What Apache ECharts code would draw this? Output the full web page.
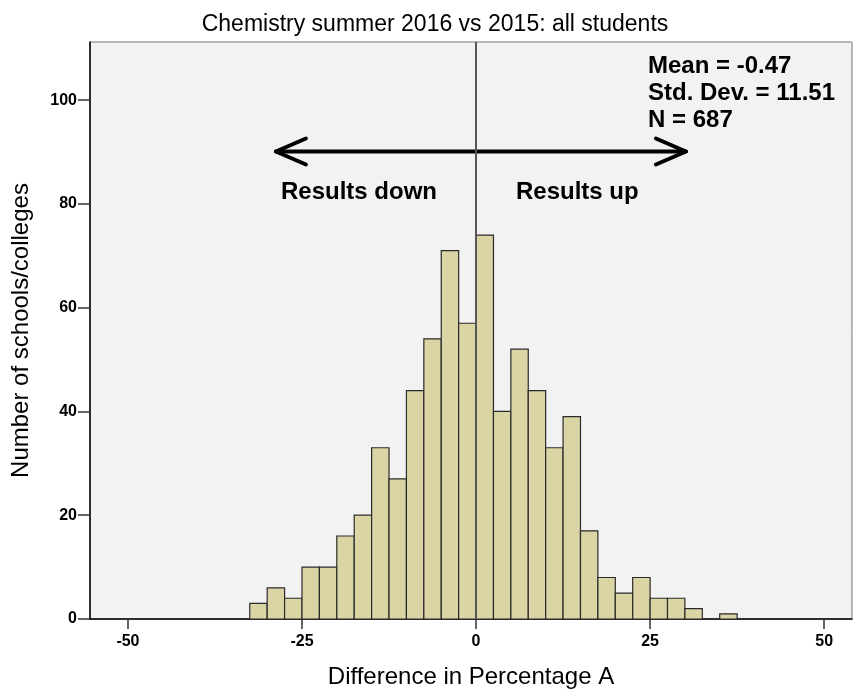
<!DOCTYPE html>
<html>
<head>
<meta charset="utf-8">
<script src="https://cdn.jsdelivr.net/npm/echarts@6/dist/echarts.min.js"></script>
<style>
  html, body { margin: 0; padding: 0; background: #fff; }
  #chart { width: 857px; height: 690px; }
</style>
</head>
<body>
<div id="chart"></div>
<script>
// histogram bins (left edge, width 2.5) and counts
var binStarts = [-32.5, -30, -27.5, -25, -22.5, -20, -17.5, -15, -12.5, -10, -7.5, -5, -2.5,
                 0, 2.5, 5, 7.5, 10, 12.5, 15, 17.5, 20, 22.5, 25, 27.5, 30, 32.5, 35];
var counts = [3, 6, 4, 10, 10, 16, 20, 33, 27, 44, 54, 71, 57,
              74, 40, 52, 44, 33, 39, 17, 8, 5, 8, 4, 4, 2, 0, 1];
var binWidth = 2.5;
var xTicks = [-50, -25, 0, 25, 50];
var yTicks = [0, 20, 40, 60, 80, 100];
var statsLines = ['Mean = -0.47', 'Std. Dev. = 11.51', 'N = 687'];
// double arrow: from, to, height
var arrowSpan = [-28.75, 30.15];
var arrowY = 90.1;

var chart = echarts.init(document.getElementById('chart'));

var binData = [];
for (var i = 0; i < binStarts.length; i++) {
    if (counts[i] > 0) binData.push([binStarts[i], binStarts[i] + binWidth, counts[i]]);
}

var statsGraphics = statsLines.map(function (s, k) {
    return {
        type: 'text', x: 648, y: 66 + k * 27,
        style: { text: s, font: 'bold 24px "Liberation Sans"', fill: '#000', verticalAlign: 'middle' }
    };
});

var option = {
    animation: false,
    backgroundColor: '#ffffff',
    title: {
        text: 'Chemistry summer 2016 vs 2015: all students',
        left: 430, top: 8, textAlign: 'center',
        textStyle: { fontFamily: 'Liberation Sans', fontSize: 23, fontWeight: 'normal', color: '#000' }
    },
    grid: {
        left: 90, right: 5, top: 42, bottom: 71,
        outerBoundsMode: 'none',
        show: true, backgroundColor: '#f2f2f2', borderColor: '#777', borderWidth: 1
    },
    xAxis: {
        type: 'value', min: -55.45, max: 54.0,
        name: 'Difference in Percentage A', nameLocation: 'middle', nameGap: 46,
        nameTextStyle: { fontFamily: 'Liberation Sans', fontSize: 24, color: '#000' },
        axisLine: { lineStyle: { color: '#000', width: 1.5 } },
        axisTick: { show: true, length: 10, customValues: xTicks, lineStyle: { color: '#333', width: 1.5 } },
        axisLabel: { customValues: xTicks, margin: 15, fontFamily: 'Liberation Sans', fontSize: 16, fontWeight: 'bold', color: '#000' },
        splitLine: { show: false }
    },
    yAxis: {
        type: 'value', min: 0, max: 111.2,
        name: 'Number of schools/colleges', nameLocation: 'middle', nameGap: 57,
        nameTextStyle: { fontFamily: 'Liberation Sans', fontSize: 24, fontWeight: 'normal', color: '#000' },
        axisLine: { show: true, onZero: false, lineStyle: { color: '#000', width: 1.5 } },
        axisTick: { show: true, length: 12, customValues: yTicks, lineStyle: { color: '#333', width: 1.5 } },
        axisLabel: { customValues: yTicks, margin: 13, fontFamily: 'Liberation Sans', fontSize: 16, fontWeight: 'bold', color: '#000' },
        splitLine: { show: false }
    },
    graphic: statsGraphics.concat([
        {
            type: 'text', x: 281, y: 192,
            style: { text: 'Results down', font: 'bold 24px "Liberation Sans"', fill: '#000', verticalAlign: 'middle' }
        },
        {
            type: 'text', x: 516, y: 192,
            style: { text: 'Results up', font: 'bold 24px "Liberation Sans"', fill: '#000', verticalAlign: 'middle' }
        }
    ]),
    series: [
        {
            type: 'custom',
            data: binData,
            encode: { x: [0, 1], y: 2 },
            renderItem: function (params, api) {
                var p0 = api.coord([api.value(0), api.value(2)]);
                var p1 = api.coord([api.value(1), 0]);
                return {
                    type: 'rect',
                    shape: { x: p0[0], y: p0[1], width: p1[0] - p0[0], height: p1[1] - p0[1] },
                    style: { fill: '#dbd5a6', stroke: '#2a2a2a', lineWidth: 1.2 }
                };
            },
            markLine: {
                silent: true, symbol: 'none',
                label: { show: false },
                lineStyle: { color: '#555', width: 2, type: 'solid' },
                data: [{ xAxis: 0 }]
            }
        },
        {
            type: 'custom',
            data: [[arrowSpan[0], arrowSpan[1], arrowY]],
            renderItem: function (params, api) {
                var a = api.coord([api.value(0), api.value(2)]);
                var b = api.coord([api.value(1), api.value(2)]);
                var hx = 30, hy = 13;
                var st = { stroke: '#000', lineWidth: 4, fill: null, lineJoin: 'round', lineCap: 'round' };
                return {
                    type: 'group',
                    children: [
                        { type: 'polyline', shape: { points: [a, b] }, style: st },
                        { type: 'polyline', shape: { points: [[a[0] + hx, a[1] - hy], a, [a[0] + hx, a[1] + hy]] }, style: st },
                        { type: 'polyline', shape: { points: [[b[0] - hx, b[1] - hy], b, [b[0] - hx, b[1] + hy]] }, style: st }
                    ]
                };
            }
        }
    ]
};

chart.setOption(option);
</script>
</body>
</html>
